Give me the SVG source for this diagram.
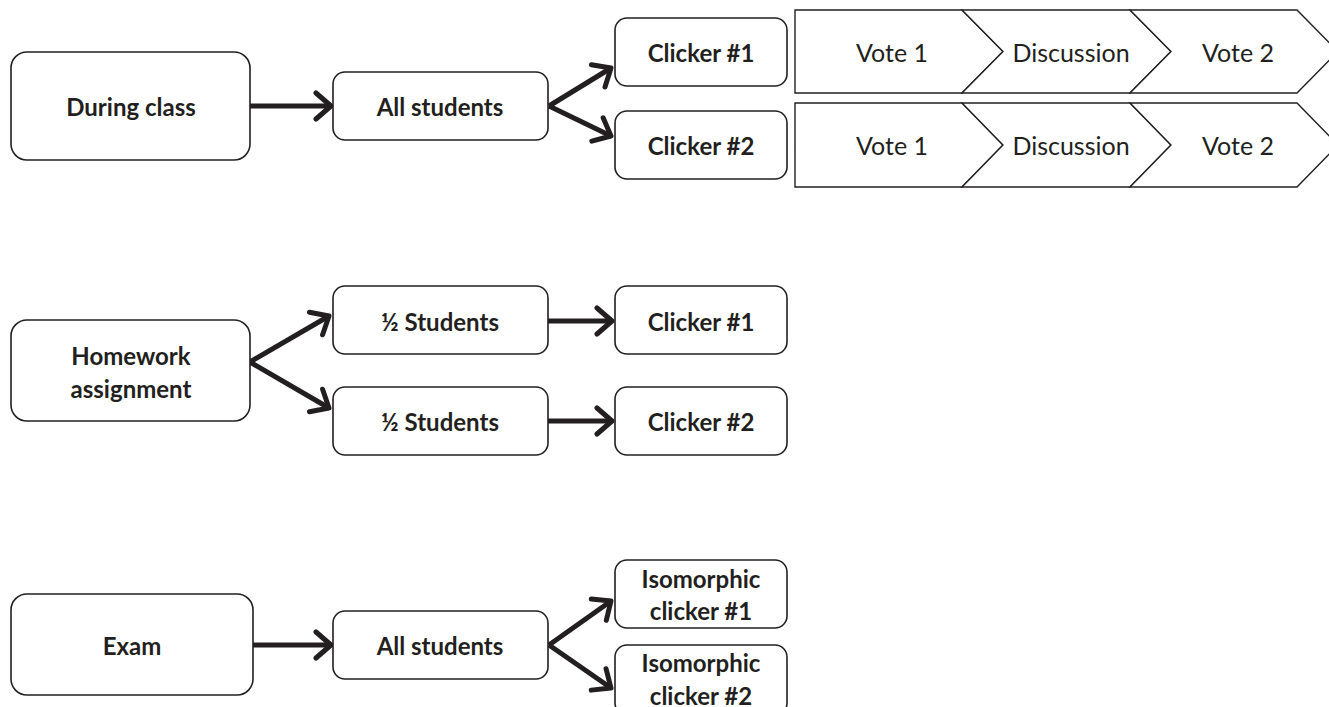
<svg xmlns="http://www.w3.org/2000/svg" width="1329" height="707" viewBox="0 0 1329 707">
<defs>
<style>
.box{fill:#fff;stroke:#231f20;stroke-width:1.6}
.chev{fill:#fff;stroke:#231f20;stroke-width:1.4;stroke-linejoin:miter}
.t{font-family:Lato,"Open Sans","Liberation Sans",sans-serif;font-weight:bold;font-size:24px;fill:#231f20;text-anchor:middle;dominant-baseline:central}
.c{font-family:Lato,"Open Sans","Liberation Sans",sans-serif;font-size:25px;fill:#231f20;text-anchor:middle;dominant-baseline:central}
.arr{fill:none;stroke:#231f20;stroke-width:5;marker-end:url(#ah)}
</style>
<marker id="ah" markerUnits="userSpaceOnUse" viewBox="-20 -16 24 32" refX="0" refY="0" markerWidth="24" markerHeight="32" orient="auto">
<path d="M-15,-13 L0,0 L-15,13" fill="none" stroke="#231f20" stroke-width="5" stroke-linecap="round" stroke-linejoin="round"/>
</marker>
</defs>
<rect width="1329" height="707" fill="#fff"/>

<g id="connectors">
<path class="arr" d="M250,106 L331,106"/>
<path class="arr" d="M549,106 L611,68"/>
<path class="arr" d="M549,106 L611,136"/>
<path class="arr" d="M250,362 L329,316"/>
<path class="arr" d="M250,362 L329,408"/>
<path class="arr" d="M548,321 L612,321"/>
<path class="arr" d="M548,421 L612,421"/>
<path class="arr" d="M253,645 L331,645"/>
<path class="arr" d="M549,645 L611,601"/>
<path class="arr" d="M549,645 L611,688"/>
</g>

<g id="during-class"><rect class="box" x="11" y="52" width="239" height="108" rx="16"/><text class="t" x="131" y="106">During class</text></g>
<g id="all-students-1"><rect class="box" x="333" y="72" width="215" height="68" rx="12"/><text class="t" x="440" y="106">All students</text></g>
<g id="clicker1-class"><rect class="box" x="615" y="18" width="172" height="68" rx="12"/><text class="t" x="701" y="52">Clicker #1</text></g>
<g id="clicker2-class"><rect class="box" x="615" y="111" width="172" height="68" rx="12"/><text class="t" x="701" y="145">Clicker #2</text></g>

<g id="process-1">
<path class="chev" d="M795,10 L962,10 L1003,51.5 L962,93 L795,93 Z"/>
<path class="chev" d="M962,10 L1130,10 L1171,51.5 L1130,93 L962,93 L1003,51.5 Z"/>
<path class="chev" d="M1130,10 L1297,10 L1338,51.5 L1297,93 L1130,93 L1171,51.5 Z"/>
<text class="c" x="892" y="52">Vote 1</text>
<text class="c" x="1071" y="52">Discussion</text>
<text class="c" x="1238" y="52">Vote 2</text>
</g>
<g id="process-2">
<path class="chev" d="M795,103 L962,103 L1003,145 L962,187 L795,187 Z"/>
<path class="chev" d="M962,103 L1130,103 L1171,145 L1130,187 L962,187 L1003,145 Z"/>
<path class="chev" d="M1130,103 L1297,103 L1338,145 L1297,187 L1130,187 L1171,145 Z"/>
<text class="c" x="892" y="145">Vote 1</text>
<text class="c" x="1071" y="145">Discussion</text>
<text class="c" x="1238" y="145">Vote 2</text>
</g>

<g id="homework"><rect class="box" x="11" y="320" width="239" height="101" rx="16"/><text class="t" x="131" y="355">Homework</text><text class="t" x="131" y="388">assignment</text></g>
<g id="half-students-1"><rect class="box" x="333" y="286" width="215" height="68" rx="12"/><text class="t" x="440" y="321">½ Students</text></g>
<g id="half-students-2"><rect class="box" x="333" y="387" width="215" height="68" rx="12"/><text class="t" x="440" y="421">½ Students</text></g>
<g id="clicker1-hw"><rect class="box" x="615" y="286" width="172" height="68" rx="12"/><text class="t" x="701" y="321">Clicker #1</text></g>
<g id="clicker2-hw"><rect class="box" x="615" y="387" width="172" height="68" rx="12"/><text class="t" x="701" y="421">Clicker #2</text></g>

<g id="exam"><rect class="box" x="11" y="594" width="242" height="101" rx="16"/><text class="t" x="132" y="645">Exam</text></g>
<g id="all-students-3"><rect class="box" x="333" y="611" width="215" height="68" rx="12"/><text class="t" x="440" y="645">All students</text></g>
<g id="iso-clicker-1"><rect class="box" x="615" y="560" width="172" height="68" rx="12"/><text class="t" x="701" y="578">Isomorphic</text><text class="t" x="701" y="610">clicker #1</text></g>
<g id="iso-clicker-2"><rect class="box" x="615" y="645" width="172" height="70" rx="12"/><text class="t" x="701" y="662">Isomorphic</text><text class="t" x="701" y="695">clicker #2</text></g>
</svg>
